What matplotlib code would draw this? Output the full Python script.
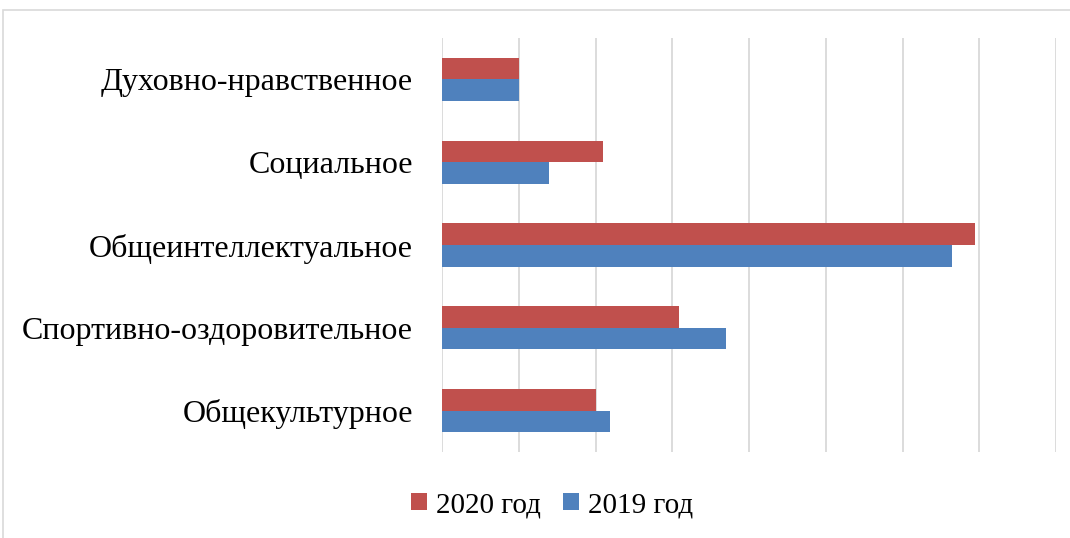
import matplotlib.pyplot as plt
import numpy as np
from matplotlib.patches import Rectangle

CATEGORIES = ["Общекультурное", "Спортивно-оздоровительное", "Общеинтеллектуальное",
              "Социальное", "Духовно-нравственное"]
VALUES_2020 = [2.0, 3.09, 6.95, 2.10, 1.0]
VALUES_2019 = [2.19, 3.70, 6.65, 1.40, 1.0]
SERIES = ("2020 год", "2019 год")
COLORS = {"2020 год": "#C0504D", "2019 год": "#4F81BD"}

plt.rcParams['font.family'] = ['Liberation Serif', 'DejaVu Serif']

fig = plt.figure(figsize=(10.7, 5.38), dpi=100)
ax = fig.add_axes([442/1070, 1-452/538, (1056-442)/1070, (452-38)/538])

y = np.arange(len(CATEGORIES))
h = 0.26
ax.barh(y + h/2, VALUES_2020, height=h, color=COLORS[SERIES[0]], label=SERIES[0], zorder=3)
ax.barh(y - h/2, VALUES_2019, height=h, color=COLORS[SERIES[1]], label=SERIES[1], zorder=3)

ax.set_xlim(0, 8)
ax.set_ylim(-0.5, 4.5)
ax.set_xticks(np.arange(0, 9, 1))
ax.set_xticklabels([])
ax.tick_params(axis='x', length=0)
ax.tick_params(axis='y', length=0, labelsize=23, pad=21)
ax.set_yticks(y)
ax.set_yticklabels(CATEGORIES)
ax.grid(axis='x', color='#D9D9D9', linewidth=1.3, zorder=0)
for s in ax.spines.values():
    s.set_visible(False)

# chart border
fig.patches.append(Rectangle((3/1070, -0.01), 1.02, 1-10/538+0.01, transform=fig.transFigure,
                             fill=False, edgecolor='#D9D9D9', linewidth=1.2))

fig.legend(loc='center', bbox_to_anchor=(0.516, 1-505/538), ncol=2, frameon=False,
           fontsize=21, handlelength=0.55, handleheight=0.55, handletextpad=0.3,
           columnspacing=0.75)

fig.savefig('out.png', dpi=100)
